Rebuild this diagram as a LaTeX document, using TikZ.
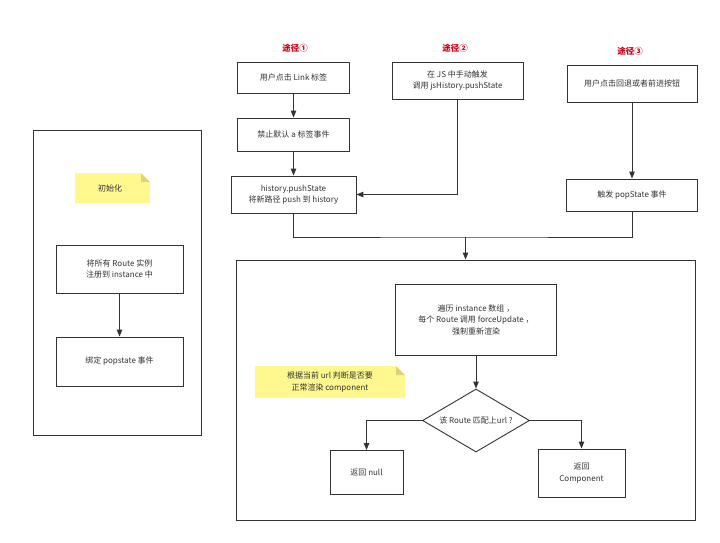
\documentclass[tikz,border=0pt]{standalone}
\usepackage{fontspec}
\setmainfont{Noto Sans CJK SC}
\usetikzlibrary{arrows.meta,shapes.geometric}
\definecolor{ink}{HTML}{333333}
\definecolor{redlbl}{HTML}{D0021B}
\definecolor{notefill}{HTML}{FFF88F}
\definecolor{notefold}{HTML}{DCD47C}
\begin{document}
\begin{tikzpicture}[x=1pt,y=-1pt,
  every node/.style={font=\fontsize{8}{11.5}\selectfont, text=ink},
  box/.style={draw=ink, line width=0.9pt, fill=white, align=center, inner sep=2pt},
  frame/.style={draw=ink, line width=1pt},
  arr/.style={draw=ink, line width=1pt, -{Triangle[length=7pt,width=5.5pt]}},
  conn/.style={draw=ink, line width=1pt},
  lbl/.style={font=\fontsize{8.5}{10}\selectfont\bfseries, text=redlbl},
  notetext/.style={align=center, inner sep=0pt}]
\useasboundingbox (0,0) rectangle (720,542);
\fill[white] (0,0) rectangle (720,542);

% initialisation panel
\node[frame, minimum width=168pt, minimum height=305pt, inner sep=0pt] (init) at (117.5,282.5) {};
\fill[notefill] (75,173) -- (141,173) -- (150,182) -- (150,203) -- (75,203) -- cycle;
\fill[notefold] (141,173) -- (150,182) -- (141,182) -- cycle;
\node[notetext] (initnote) at (110,188) {初始化};
\node[box, minimum width=127pt, minimum height=48pt] (l1) at (119.5,269) {将所有 Route 实例\\注册到 instance 中};
\node[box, minimum width=127pt, minimum height=49pt] (l2) at (119.5,361.5) {绑定 popstate 事件};
\draw[arr] (l1.south) -- (l2.north);

% route labels
\node[lbl] (p1) at (295,48) {途径①};
\node[lbl] (p2) at (455,48) {途径②};
\node[lbl] (p3) at (630,51) {途径③};

% path 1
\node[box, minimum width=112pt, minimum height=31pt] (a1) at (293.5,77.5) {用户点击 Link 标签};
\node[box, minimum width=112pt, minimum height=33pt] (a2) at (293.5,134.5) {禁止默认 a 标签事件};
\node[box, minimum width=125pt, minimum height=37pt] (a3) at (293.5,194.5) {history.pushState\\将新路径 push 到 history};
\draw[arr] (a1.south) -- (a2.north);
\draw[arr] (a2.south) -- (a3.north);

% path 2
\node[box, minimum width=131pt, minimum height=37pt] (b1) at (457.5,80.5) {在 JS 中手动触发\\调用 jsHistory.pushState};
\draw[arr] (b1.south) |- (a3.east);

% path 3
\node[box, minimum width=130pt, minimum height=37pt] (c1) at (632,83.5) {用户点击回退或者前进按钮};
\node[box, minimum width=131pt, minimum height=32pt] (c2) at (632,195) {触发 popState 事件};
\draw[arr] (c1.south) -- (c2.north);

% rendering panel
\node[frame, minimum width=459pt, minimum height=260pt, inner sep=0pt] (render) at (465.5,390) {};
\coordinate (join) at (465.5,237);
\draw[conn] (a3.south) |- (join) -| (c2.south);
\draw[arr] (join) -- (render.north);

\node[box, minimum width=161pt, minimum height=71pt] (d1) at (476,319.5) {遍历 instance 数组 ，\\每个 Route 调用 forceUpdate ，\\强制重新渲染};
\fill[notefill] (255,366) -- (396,366) -- (405,375) -- (405,398) -- (255,398) -- cycle;
\fill[notefold] (396,366) -- (405,375) -- (396,375) -- cycle;
\node[notetext] (rnote) at (330,382) {根据当前 url 判断是否要\\正常渲染 component};

\node[diamond, draw=ink, line width=0.9pt, fill=white, minimum width=107pt, minimum height=63pt, inner sep=0pt] (dm) at (476,420.5) {};
\node[inner sep=0pt] (dmtext) at (dm.center) {该 Route 匹配上url ?};
\draw[arr] (d1.south) -- (dm.north);

\node[box, minimum width=73pt, minimum height=44pt] (e1) at (366.5,472.5) {返回 null};
\node[box, minimum width=87pt, minimum height=48pt] (e2) at (581.5,473) {返回\\Component};
\draw[arr] (dm.west) -| (e1.north);
\draw[arr] (dm.east) -| (e2.north);
\end{tikzpicture}
\end{document}
